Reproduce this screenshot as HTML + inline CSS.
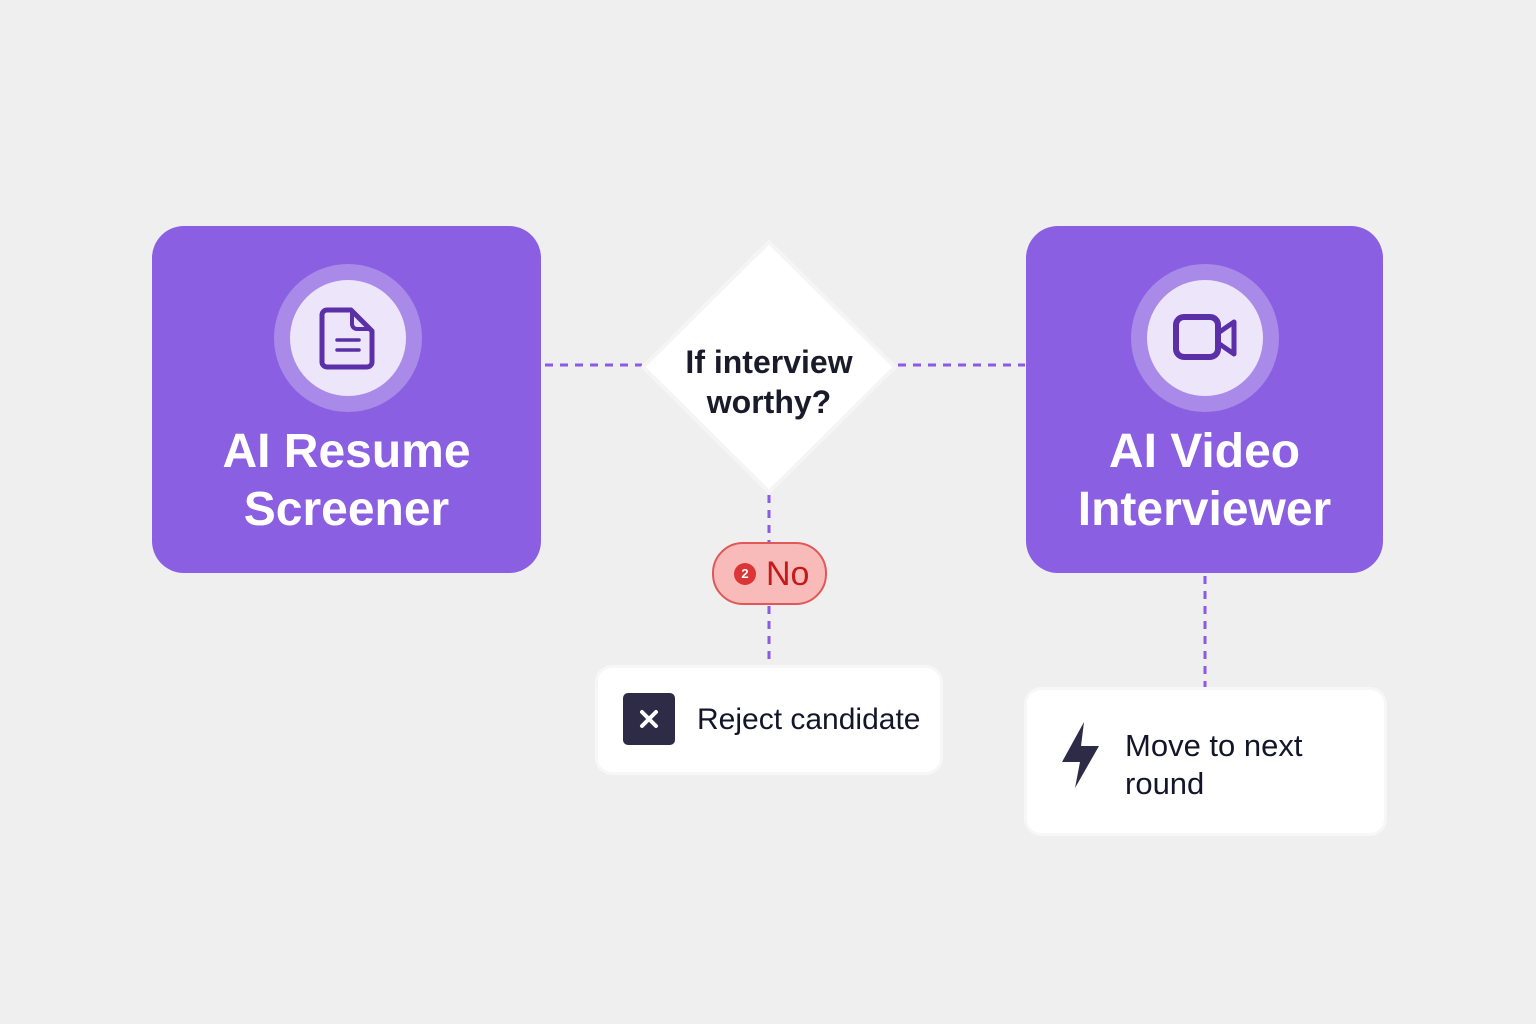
<!DOCTYPE html>
<html><head><meta charset="utf-8"><style>
body{margin:0;width:1536px;height:1024px;background:#efefef;position:relative;overflow:hidden;font-family:"Liberation Sans",sans-serif}
.a{position:absolute}
.big{background:#8b5fe1;border-radius:32px}
.t{color:#fff;font-weight:bold;font-size:48px;text-align:center;line-height:58px}
.card{background:#fff;border-radius:14px;box-shadow:0 0 0 3px #f7f7f7}
</style></head><body>
<svg class="a" style="left:0;top:0" width="1536" height="1024">
<g stroke="#8b5ae6" stroke-width="3" stroke-dasharray="8 7" fill="none">
<line x1="545" y1="365" x2="642" y2="365"/>
<line x1="898" y1="365" x2="1025" y2="365"/>
<line x1="769" y1="495" x2="769" y2="542"/>
<line x1="769" y1="606" x2="769" y2="665"/>
<line x1="1205" y1="576" x2="1205" y2="688"/>
</g>
<polygon points="769,242 895,367 769,492 643,367" fill="#fff" stroke="#f5f5f5" stroke-width="4" stroke-linejoin="round"/>
</svg>
<div class="a big" style="left:152px;top:226px;width:389px;height:347px"></div>
<div class="a big" style="left:1026px;top:226px;width:357px;height:347px"></div>
<svg class="a" style="left:0;top:0" width="1536" height="1024">
<circle cx="348" cy="338" r="74" fill="#a98ae9"/><circle cx="348" cy="338" r="58" fill="#ede6fb"/>
<path d="M327 310 h24 l21 21 v31 a5 5 0 0 1 -5 5 h-40 a5 5 0 0 1 -5 -5 v-47 a5 5 0 0 1 5 -5z" fill="none" stroke="#5a2fa8" stroke-width="5" stroke-linejoin="round"/>
<path d="M352 312 v12 a5 5 0 0 0 5 5 h12" fill="none" stroke="#5a2fa8" stroke-width="4"/>
<line x1="337" y1="340" x2="359" y2="340" stroke="#5a2fa8" stroke-width="3.5" stroke-linecap="round"/>
<line x1="337" y1="350" x2="359" y2="350" stroke="#5a2fa8" stroke-width="3.5" stroke-linecap="round"/>
<circle cx="1205" cy="338" r="74" fill="#a98ae9"/><circle cx="1205" cy="338" r="58" fill="#ede6fb"/>
<rect x="1176" y="317" width="42" height="40" rx="8" fill="none" stroke="#5a2fa8" stroke-width="6"/>
<path d="M1218 333 l16 -11 v32 l-16 -11z" fill="none" stroke="#5a2fa8" stroke-width="5" stroke-linejoin="round"/>
</svg>
<div class="a t" style="left:152px;top:423px;width:389px">AI Resume<br>Screener</div>
<div class="a t" style="left:1026px;top:423px;width:357px">AI Video<br>Interviewer</div>
<div class="a" style="left:644px;top:342px;width:250px;text-align:center;font-size:32px;font-weight:bold;line-height:40px;color:#1a1a2a">If interview<br>worthy?</div>
<div class="a" style="left:712px;top:542px;width:111px;height:59px;border:2px solid #e05858;border-radius:31px;background:#f9baba"></div>
<div class="a" style="left:734px;top:563px;width:22px;height:22px;border-radius:50%;background:#dc3535;color:#fff;font-size:13px;font-weight:bold;text-align:center;line-height:22px">2</div>
<div class="a" style="left:766px;top:553px;font-size:34px;color:#c31b1b;line-height:42px">No</div>
<div class="a card" style="left:598px;top:668px;width:342px;height:104px"></div>
<svg class="a" style="left:0;top:0" width="1536" height="1024"><rect x="623" y="693" width="52" height="52" rx="5" fill="#2d2b45"/><path d="M642 712 l14 14 M656 712 l-14 14" stroke="#fff" stroke-width="4" stroke-linecap="round"/></svg>
<div class="a" style="left:697px;top:700px;font-size:30px;color:#15152a;line-height:40px">Reject candidate</div>
<div class="a card" style="left:1027px;top:690px;width:357px;height:143px"></div>
<svg class="a" style="left:0;top:0" width="1536" height="1024"><path d="M1084 722 L1062 762 H1080 L1075 788 L1099 746 H1081 Z" fill="#2d2b45"/></svg>
<div class="a" style="left:1125px;top:727px;font-size:31px;color:#15152a;line-height:38px">Move to next<br>round</div>
</body></html>
